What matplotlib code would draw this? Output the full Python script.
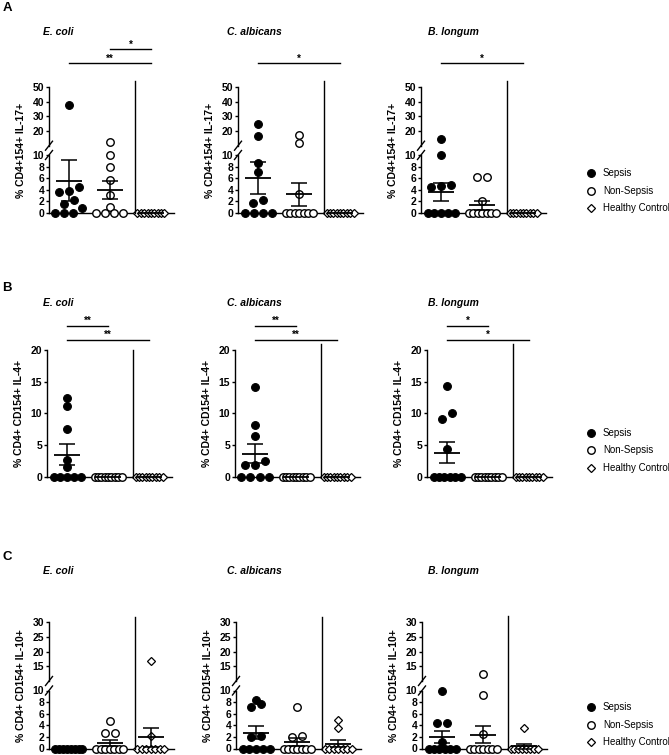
import matplotlib
matplotlib.use("Agg")
import matplotlib.pyplot as plt
from matplotlib.lines import Line2D
from matplotlib.transforms import blended_transform_factory
import numpy as np

plt.rcParams['font.family'] = ['Liberation Sans', 'DejaVu Sans']

species = ['E. coli', 'C. albicans', 'B. longum']
groups = ['Sepsis', 'Non-Sepsis', 'Healthy Control']

# A: % CD4+154+ IL-17+   (one list per species: E. coli, C. albicans, B. longum)
il17_sepsis = [
    [37.5, 4.5, 3.8, 3.6, 2.2, 1.5, 0.8, 0, 0, 0],
    [25, 16.3, 8.6, 7.0, 2.2, 1.7, 0, 0, 0, 0],
    [14.5, 10, 4.8, 4.6, 4.4, 0, 0, 0, 0, 0],
]
il17_nonsepsis = [
    [12.5, 10, 8, 5.7, 3.1, 1.1, 0, 0, 0, 0],
    [17.5, 12, 3.3, 0, 0, 0, 0, 0, 0, 0],
    [6.2, 6.2, 2.0, 0, 0, 0, 0, 0, 0, 0],
]
il17_healthy = [
    [0, 0, 0, 0, 0, 0, 0, 0, 0],
    [0, 0, 0, 0, 0, 0, 0, 0, 0],
    [0, 0, 0, 0, 0, 0, 0, 0, 0],
]
il17_mean = [[5.6, 4.0, 0], [6.05, 3.2, 0], [3.7, 1.3, 0]]
il17_sem = [[3.55, 1.55, 0], [2.75, 1.95, 0], [1.55, 0.8, 0]]
il17_sig = [[(0, 2, '**'), (1, 2, '*')], [(0, 2, '*')], [(0, 2, '*')]]

# B: % CD4+ CD154+ IL-4+
il4_sepsis = [
    [12.5, 11.1, 7.6, 2.6, 1.5, 0, 0, 0, 0, 0],
    [14.2, 8.2, 6.5, 2.4, 1.9, 1.8, 0, 0, 0, 0],
    [14.3, 10.0, 9.1, 4.3, 0, 0, 0, 0, 0, 0],
]
il4_nonsepsis = [
    [0, 0, 0, 0, 0, 0, 0, 0, 0],
    [0, 0, 0, 0, 0, 0, 0, 0, 0],
    [0, 0, 0, 0, 0, 0, 0, 0, 0],
]
il4_healthy = [
    [0, 0, 0, 0, 0, 0, 0, 0, 0],
    [0, 0, 0, 0, 0, 0, 0, 0, 0],
    [0, 0, 0, 0, 0, 0, 0, 0, 0],
]
il4_mean = [[3.5, 0, 0], [3.6, 0, 0], [3.8, 0, 0]]
il4_sem = [[1.6, 0, 0], [1.5, 0, 0], [1.7, 0, 0]]
il4_sig = [[(0, 2, '**'), (0, 1, '**')], [(0, 2, '**'), (0, 1, '**')], [(0, 2, '*'), (0, 1, '*')]]

# C: % CD4+ CD154+ IL-10+
il10_sepsis = [
    [0, 0, 0, 0, 0, 0, 0, 0],
    [8.3, 7.7, 7.1, 2.1, 2.0, 0, 0, 0, 0, 0],
    [9.9, 4.4, 4.4, 1.2, 0, 0, 0, 0, 0, 0],
]
il10_nonsepsis = [
    [4.7, 2.7, 2.6, 0, 0, 0, 0, 0, 0, 0],
    [7.2, 2.2, 2.0, 0, 0, 0, 0, 0, 0, 0],
    [12.4, 9.3, 2.5, 0, 0, 0, 0, 0, 0, 0],
]
il10_healthy = [
    [16.7, 2.2, 0, 0, 0, 0, 0, 0, 0],
    [4.9, 3.6, 0, 0, 0, 0, 0, 0, 0],
    [3.6, 0, 0, 0, 0, 0, 0, 0, 0],
]
il10_mean = [[0, 1.0, 1.9], [2.7, 1.1, 0.85], [2.0, 2.4, 0.35]]
il10_sem = [[0, 0.5, 1.6], [1.1, 0.7, 0.6], [1.0, 1.5, 0.35]]
il10_sig = [[], [], []]

W, H = 669, 755
fig = plt.figure(figsize=(W / 100, H / 100), dpi=100)


def fx(x):
    return x / W


def fy(y):
    return 1 - y / H


def add_axes_px(left, top, width, bottom):
    return fig.add_axes([fx(left), fy(bottom), width / W, (bottom - top) / H])


marker_styles = [
    dict(marker='o', mfc='black', mec='black', ms=5.6, mew=0.8),
    dict(marker='o', mfc='white', mec='black', ms=5.4, mew=1.0),
    dict(marker='D', mfc='white', mec='black', ms=4.0, mew=0.9),
]

PANEL_W = 125
PX_UNIT = 41
XLIM = (-20 / PX_UNIT, (PANEL_W - 20) / PX_UNIT)
SEP_X = 1.6
HALF_MEAN = 13 / PX_UNIT


def style_axis(ax, ticks, bottom_spine):
    ax.set_xlim(*XLIM)
    for s in ['top', 'right']:
        ax.spines[s].set_visible(False)
    ax.spines['left'].set_linewidth(1.0)
    ax.spines['bottom'].set_linewidth(1.0)
    ax.spines['bottom'].set_visible(bottom_spine)
    ax.set_xticks([])
    ax.set_yticks(ticks)
    ax.set_yticklabels([str(t) for t in ticks], fontweight='bold')
    ax.tick_params(axis='y', length=2.5, width=1.0, pad=1, labelsize=7.5)
    ax.patch.set_alpha(0)


def swarm_px(ys, max_step=10, max_width=27, row_h=6):
    # points close in height share a row and are spread side by side
    order = np.argsort(ys, kind='stable')
    offsets = np.zeros(len(ys))
    rows_ = []
    for i in order:
        if rows_ and ys[i] - ys[rows_[-1][0]] < row_h:
            rows_[-1].append(i)
        else:
            rows_.append([i])
    for r in rows_:
        n = len(r)
        if n > 1:
            step = min(max_step, max_width / (n - 1))
            for k, i in enumerate(r):
                offsets[i] = (k - (n - 1) / 2) * step
    return offsets


rows = [
    dict(letter='A', letter_y=8, title_y=32, ylabel='% CD4+154+ IL-17+',
         lefts=[49, 238, 421], top=87, bottom=213, split=(145.7, 155), cut=10, ymax=50,
         upper_ticks=[20, 30, 40, 50], lower_ticks=[0, 2, 4, 6, 8, 10],
         sep_tops=[81, 81, 81], bar_base=24, bar_step=14, legend_y=173,
         data=(il17_sepsis, il17_nonsepsis, il17_healthy), mean=il17_mean, sem=il17_sem, sig=il17_sig),
    dict(letter='B', letter_y=288, title_y=303, ylabel='% CD4+ CD154+ IL-4+',
         lefts=[47, 235, 427], top=350, bottom=476.7, split=None, cut=None, ymax=20,
         upper_ticks=None, lower_ticks=[0, 5, 10, 15, 20],
         sep_tops=[350, 344, 344], bar_base=10.5, bar_step=14, legend_y=433,
         data=(il4_sepsis, il4_nonsepsis, il4_healthy), mean=il4_mean, sem=il4_sem, sig=il4_sig),
    dict(letter='C', letter_y=557.5, title_y=571, ylabel='% CD4+ CD154+ IL-10+',
         lefts=[49, 236, 422], top=622, bottom=748.5, split=(681, 690.5), cut=10, ymax=30,
         upper_ticks=[15, 20, 25, 30], lower_ticks=[0, 2, 4, 6, 8, 10],
         sep_tops=[617, 617, 616], bar_base=0, bar_step=0, legend_y=707,
         data=(il10_sepsis, il10_nonsepsis, il10_healthy), mean=il10_mean, sem=il10_sem, sig=il10_sig),
]
title_x = [43, 227, 428]

for row in rows:
    fig.text(fx(7), fy(row['letter_y']), row['letter'], ha='center', va='center',
             fontsize=9.5, fontweight='bold')
    for col in range(3):
        left = row['lefts'][col]
        if row['split']:
            ub, lt = row['split']
            ax_up = add_axes_px(left, row['top'], PANEL_W, ub)
            ax_lo = add_axes_px(left, lt, PANEL_W, row['bottom'])
            ax_up.set_ylim(row['cut'], row['ymax'])
            ax_lo.set_ylim(0, row['cut'])
            style_axis(ax_up, row['upper_ticks'], False)
            style_axis(ax_lo, row['lower_ticks'], True)
            # axis break marks
            for yb in (ub, lt):
                fig.add_artist(Line2D([fx(left - 3.5), fx(left + 3.5)], [fy(yb + 4.5), fy(yb - 4.5)],
                                      transform=fig.transFigure, color='black', lw=1.0))
        else:
            ax_up = None
            ax_lo = add_axes_px(left, row['top'], PANEL_W, row['bottom'])
            ax_lo.set_ylim(0, row['ymax'])
            style_axis(ax_lo, row['lower_ticks'], True)

        for g in range(3):
            vals = np.asarray(row['data'][g][col], float)
            axs = [ax_up if (ax_up is not None and v > row['cut']) else ax_lo for v in vals]
            ys = np.array([a.transData.transform((0, v))[1] for a, v in zip(axs, vals)])
            offs = swarm_px(ys)
            for a, v, o in zip(axs, vals, offs):
                a.plot(g + o / PX_UNIT, v, ls='none', clip_on=False, zorder=3, **marker_styles[g])
            m = row['mean'][col][g]
            s = row['sem'][col][g]
            ax_lo.hlines(m, g - HALF_MEAN, g + HALF_MEAN, color='black', lw=1.3, zorder=4, clip_on=False)
            if s > 0:
                ax_lo.errorbar(g, m, yerr=s, fmt='none', ecolor='black', elinewidth=1.1,
                               capsize=5.5, capthick=1.1, zorder=4)

        tr = blended_transform_factory(ax_lo.transData, fig.transFigure)
        fig.add_artist(Line2D([SEP_X, SEP_X], [fy(row['bottom']), fy(row['sep_tops'][col])],
                              transform=tr, color='black', lw=1.0))
        for k, (i, j, lab) in enumerate(row['sig'][col]):
            yb = row['top'] - row['bar_base'] - k * row['bar_step']
            fig.add_artist(Line2D([i, j], [fy(yb), fy(yb)], transform=tr, color='black', lw=1.0))
            ax_lo.text((i + j) / 2, fy(yb - 1.5), lab, transform=tr, ha='center', va='baseline',
                       fontsize=7, fontweight='bold')

        fig.text(fx(left - 28), fy((row['top'] + row['bottom']) / 2), row['ylabel'], rotation=90,
                 ha='center', va='center', fontsize=7.5, fontweight='bold')
        fig.text(fx(title_x[col]), fy(row['title_y']), species[col], ha='left', va='center',
                 fontsize=7.5, fontweight='bold', style='italic')

    # legend
    for g, name in enumerate(groups):
        yl = row['legend_y'] + g * 17.5
        fig.add_artist(Line2D([fx(591)], [fy(yl)], transform=fig.transFigure, ls='none',
                              **marker_styles[g]))
        fig.text(fx(603), fy(yl), name, ha='left', va='center', fontsize=7)

fig.savefig('out.png', dpi=100)
